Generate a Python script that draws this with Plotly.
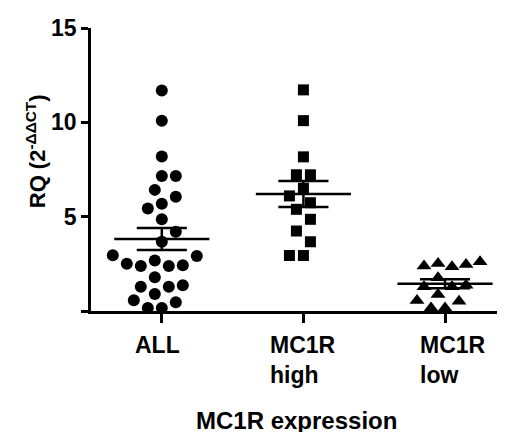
import numpy as np
import plotly.graph_objects as go

# ---- data ----
categories = ["ALL", "MC1R<br>high", "MC1R<br>low"]
all_values = [11.69, 10.09, 8.19, 7.16, 7.16, 6.42, 6.06, 5.69, 5.43, 4.86, 4.20, 3.67,
              2.96, 2.91, 2.68, 2.43, 2.38, 2.38, 2.50, 1.79, 1.28, 1.28, 1.37, 0.90,
              0.46, 0.57, 0.16, 0.16]
high_values = [11.72, 10.09, 8.17, 7.22, 7.22, 6.51, 6.10, 5.74, 5.39, 4.86, 4.24, 3.67,
               2.94, 2.94]
low_values = [2.61, 2.46, 2.34, 2.38, 2.52, 1.76, 1.37, 1.28, 1.28, 0.87, 0.52, 0.16,
              0.16, 0.55]
y_tickvals = [0, 5, 10, 15]
y_ticktext = ["", "5", "10", "15"]
x_title = "MC1R expression"
y_title = "RQ (2<sup>-ΔΔCT</sup>)"

groups = [all_values, high_values, low_values]
symbols = ["circle", "square", "triangle-up"]
sizes = [12, 11, 13]

# ---- layout constants ----
W, H = 505, 432
ML, MR, MT, MB = 83, 0, 20, 129
XR = [-0.5, 2.48]
YR = [0, 15]
px_x = (W - ML - MR) / (XR[1] - XR[0])
px_y = (H - MT - MB) / (YR[1] - YR[0])
FONT = "Liberation Sans, Arial, sans-serif"


def swarm(vals, d=14.0):
    """Greedy beeswarm offsets (in x-axis units) so markers do not overlap."""
    order = np.argsort(vals)
    placed = []
    offs = np.zeros(len(vals))
    last_side = 1
    for i in order:
        y = vals[i] * px_y
        best = None
        for k in range(0, 40):
            cands = [0.0] if k == 0 else [-last_side * k * d / 2, last_side * k * d / 2]
            for c in cands:
                if all((c - px) ** 2 + (y - py) ** 2 >= d * d for px, py in placed):
                    best = c
                    break
            if best is not None:
                break
        placed.append((best, y))
        offs[i] = best / px_x
        if best != 0:
            last_side = 1 if best > 0 else -1
    return offs


fig = go.Figure()
for gi, vals in enumerate(groups):
    vals = np.array(vals, dtype=float)
    offs = swarm(vals)
    fig.add_trace(go.Scatter(
        x=gi + offs, y=vals, mode="markers",
        marker=dict(symbol=symbols[gi], size=sizes[gi], color="black", line=dict(width=0)),
        cliponaxis=False, showlegend=False, hoverinfo="y"))

for gi, vals in enumerate(groups):
    vals = np.array(vals, dtype=float)
    m = vals.mean()
    sem = vals.std(ddof=1) / np.sqrt(len(vals))
    mw, cw = 0.336, 0.177
    xs = [gi - mw, gi + mw, None, gi - cw, gi + cw, None, gi - cw, gi + cw, None, gi, gi]
    ys = [m, m, None, m + sem, m + sem, None, m - sem, m - sem, None, m - sem, m + sem]
    fig.add_trace(go.Scatter(x=xs, y=ys, mode="lines", line=dict(color="black", width=2.5),
                             cliponaxis=False, showlegend=False, hoverinfo="skip"))

ann = []
xshift = [-4, 0, 8]
for gi, c in enumerate(categories):
    ann.append(dict(x=gi, y=-0.068, xref="x", yref="paper", text=c, showarrow=False,
                    xanchor="center", yanchor="top", align="left", xshift=xshift[gi],
                    font=dict(family=FONT, size=23, color="black", weight="bold")))
ann.append(dict(x=0.487, y=-0.333, xref="paper", yref="paper", text=x_title, showarrow=False,
                xanchor="center", yanchor="top",
                font=dict(family=FONT, size=24, color="black", weight="bold")))
ann.append(dict(x=-0.13, y=0.565, xref="paper", yref="paper", text=y_title, showarrow=False,
                textangle=-90, xanchor="center", yanchor="middle",
                font=dict(family=FONT, size=22, color="black", weight="bold")))

fig.update_layout(
    width=W, height=H, margin=dict(l=ML, r=MR, t=MT, b=MB, pad=0),
    paper_bgcolor="white", plot_bgcolor="white",
    xaxis=dict(range=XR, showline=True, linecolor="black", linewidth=2.5,
               ticks="outside", ticklen=9, tickwidth=2.5, tickcolor="black",
               tickvals=[0, 1, 2], showticklabels=False, showgrid=False, zeroline=False),
    yaxis=dict(range=YR, showline=True, linecolor="black", linewidth=2.5,
               ticks="outside", ticklen=7, tickwidth=2.5, tickcolor="black",
               tickvals=y_tickvals, ticktext=y_ticktext, showgrid=False, zeroline=False,
               tickfont=dict(family=FONT, size=23, color="black", weight="bold")),
    annotations=ann,
)
fig.write_html("out.html")
